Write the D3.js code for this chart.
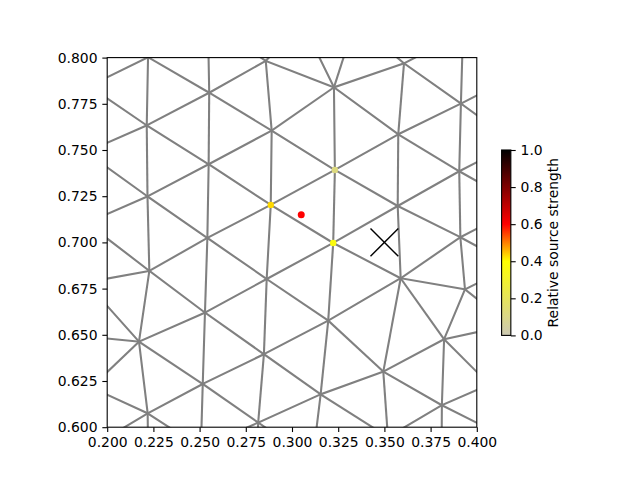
<!DOCTYPE html>
<html>
<head>
<meta charset="utf-8">
<script src="https://cdn.jsdelivr.net/npm/d3@7"></script>
<style>
  html, body { margin: 0; padding: 0; background: #fff; }
  svg { display: block; font-family: "DejaVu Sans", sans-serif; }
</style>
</head>
<body>
<svg id="chart" width="640" height="480"></svg>
<script>
// ---------------- data ----------------
// mesh nodes (data coordinates); nodes outside the view are needed for clipped edges
const nodeIds = ["a1","a2","a3","a4","a5","a6",
  "b1","b2","b3","b4","b5",
  "c0","c1","c2","c3","c4","c5",
  "d1","d2","d3","d4","d5",
  "e0","e1","e2","e3","e4",
  "f1","f2","f3","f4","f5","f6",
  "L1","L2","L3","L4","L5","L6","L7",
  "a7","b6","c6","d6","e5","f7",
  "G1","G2","G3","G4","G5","G6","G7",
  "f0","Q","P","b0"];
const nodeX = [0.2221,0.2214,0.2218,0.2228,0.2172,0.2219,
  0.2552,0.2549,0.2542,0.2529,0.2517,
  0.2858,0.2890,0.2885,0.2863,0.2848,0.2817,
  0.3227,0.3232,0.3223,0.3196,0.3155,
  0.3606,0.3575,0.3572,0.3588,0.3494,
  0.3914,0.3905,0.3911,0.3936,0.3823,0.3811,
  0.1902,0.1885,0.1891,0.1887,0.1853,0.1914,0.1934,
  0.2223,0.2507,0.2805,0.3112,0.3519,0.3809,
  0.4233,0.4206,0.4239,0.4195,0.4179,0.4068,0.4125,
  0.3925,0.3341,0.3054,0.2545];
const nodeY = [0.8002,0.7633,0.7249,0.6846,0.6463,0.6075,
  0.7810,0.7423,0.7024,0.6620,0.6234,
  0.7982,0.7605,0.7203,0.6802,0.6395,0.6025,
  0.7839,0.7392,0.6997,0.6577,0.6178,
  0.7969,0.7585,0.7197,0.6806,0.6301,
  0.7751,0.7385,0.7028,0.6746,0.6476,0.6119,
  0.7846,0.7489,0.7105,0.6783,0.6494,0.6216,0.5904,
  0.5688,0.5888,0.5661,0.5823,0.5947,0.5769,
  0.7913,0.7540,0.7197,0.6875,0.6553,0.6231,0.5961,
  0.8133,0.8193,0.8193,0.8193];
const meshEdges = [
  "a1-a2","a2-a3","a3-a4","a4-a5","a5-a6","a6-a7",
  "b0-b1","b1-b2","b2-b3","b3-b4","b4-b5","b5-b6",
  "c0-c1","c1-c2","c2-c3","c3-c4","c4-c5","c5-c6",
  "d1-d2","d2-d3","d3-d4","d4-d5","d5-d6",
  "e0-e1","e1-e2","e2-e3","e3-e4","e4-e5",
  "f0-f1","f1-f2","f2-f3","f3-f4","f4-f5","f5-f6","f6-f7",
  "L1-a1","L1-a2","L2-a2","L2-a3","L3-a3","L3-a4","L4-a4","L4-a5","L5-a5","L6-a5","L6-a6","L7-a6",
  "a1-b1","a2-b1","a2-b2","a3-b2","a3-b3","a4-b3","a4-b4","a5-b4","a5-b5","a6-b5","a6-b6",
  "b0-c0","b1-c0","b1-c1","b2-c1","b2-c2","b3-c2","b3-c3","b4-c3","b4-c4","b5-c4","b5-c5","b6-c5",
  "c0-P","c0-d1","c1-d1","c1-d2","c2-d2","c2-d3","c3-d3","c3-d4","c4-d4","c4-d5","c5-d5","c5-d6",
  "d1-P","d1-Q","d1-e0","d1-e1","d2-e1","d2-e2","d3-e2","d3-e3","d4-e3","d4-e4","d5-e4","d5-e5",
  "Q-e0","e0-f0","e0-f1","e1-f1","e1-f2","e2-f2","e2-f3","e3-f3","e3-f4","e3-f5","e4-f5","e4-f6","e5-f6",
  "f1-G1","f1-G2","f2-G2","f2-G3","f3-G3","f3-G4","f4-G4","f4-G5","f5-G5","f5-G6","f6-G6","f6-G7"
];
// source strength at nodes
const strengthNodes = ["d2","d3","c2"];
const strengthValues = [0.12, 0.37, 0.43];
// true source and estimated location
const trueSourceX = [0.305], trueSourceY = [0.715];
const estimateX = [0.350], estimateY = [0.700];
// axes
const xDomain = [0.2, 0.4], yDomain = [0.6, 0.8];
const xTicks = [0.2,0.225,0.25,0.275,0.3,0.325,0.35,0.375,0.4];
const yTicks = [0.6,0.625,0.65,0.675,0.7,0.725,0.75,0.775,0.8];
const cbTicks = [0,0.2,0.4,0.6,0.8,1.0];
const cmapStops = [0, 0.4, 0.6, 1.0];
const cmapColors = ["#cdc9b5", "#ffff00", "#ff0000", "#000000"];
const cbLabel = "Relative source strength";

// ---------------- drawing ----------------
const svg = d3.select("#chart");
const L = 107.2, R = 476.8, T = 57.6, B = 427.2;
const x = d3.scaleLinear().domain(xDomain).range([L, R]);
const y = d3.scaleLinear().domain(yDomain).range([B, T]);
const cmap = d3.scaleLinear().domain(cmapStops).range(cmapColors).clamp(true);
const FS = 13.9, TICK = 4.86, PAD = 4.86;

svg.append("defs").append("clipPath").attr("id","clip")
  .append("rect").attr("x", L).attr("y", T).attr("width", R-L).attr("height", B-T);

const idx = {};
nodeIds.forEach((id, i) => idx[id] = i);

const plot = svg.append("g").attr("clip-path", "url(#clip)");
plot.selectAll("line.edge").data(meshEdges).join("line")
  .attr("class","edge")
  .attr("x1", e => x(nodeX[idx[e.split("-")[0]]]))
  .attr("y1", e => y(nodeY[idx[e.split("-")[0]]]))
  .attr("x2", e => x(nodeX[idx[e.split("-")[1]]]))
  .attr("y2", e => y(nodeY[idx[e.split("-")[1]]]))
  .attr("stroke", "#808080").attr("stroke-width", 2.08).attr("stroke-linecap","square");

plot.selectAll("circle.str").data(strengthNodes).join("circle")
  .attr("class","str")
  .attr("cx", n => x(nodeX[idx[n]]))
  .attr("cy", n => y(nodeY[idx[n]]))
  .attr("r", 3.2)
  .attr("fill", (n, i) => cmap(strengthValues[i]));

plot.selectAll("circle.true").data(trueSourceX).join("circle")
  .attr("class","true")
  .attr("cx", (d, i) => x(trueSourceX[i]))
  .attr("cy", (d, i) => y(trueSourceY[i]))
  .attr("r", 3.5).attr("fill", "#ff0000");

const half = 13.9;
const est = plot.selectAll("g.est").data(estimateX).join("g")
  .attr("class","est")
  .attr("transform", (d, i) => `translate(${x(estimateX[i])},${y(estimateY[i])})`);
est.append("line").attr("x1",-half).attr("y1",-half).attr("x2",half).attr("y2",half)
  .attr("stroke","#000").attr("stroke-width",1.4);
est.append("line").attr("x1",-half).attr("y1",half).attr("x2",half).attr("y2",-half)
  .attr("stroke","#000").attr("stroke-width",1.4);

// axes
function styleAxis(g) {
  g.select(".domain").remove();
  g.selectAll(".tick line").attr("stroke","#000").attr("stroke-width",1.1);
  g.selectAll(".tick text").attr("fill","#000").attr("font-size", FS)
    .attr("font-family","DejaVu Sans, sans-serif");
}
svg.append("g").attr("transform", `translate(0,${B})`)
  .call(d3.axisBottom(x).tickValues(xTicks).tickFormat(d3.format(".3f")).tickSize(TICK).tickPadding(PAD))
  .call(styleAxis);
svg.append("g").attr("transform", `translate(${L},0)`)
  .call(d3.axisLeft(y).tickValues(yTicks).tickFormat(d3.format(".3f")).tickSize(TICK).tickPadding(PAD))
  .call(styleAxis);
svg.append("rect").attr("x", L).attr("y", T).attr("width", R-L).attr("height", B-T)
  .attr("fill","none").attr("stroke","#000").attr("stroke-width",1.1);

// colorbar
const cbL = 501.6, cbW = 9.24, cbT = 150.0, cbB = 335.4;
const cy = d3.scaleLinear().domain([0,1]).range([cbB, cbT]);
const grad = svg.select("defs").append("linearGradient").attr("id","cbgrad")
  .attr("x1","0").attr("y1","1").attr("x2","0").attr("y2","0");
d3.range(0, 1.0001, 0.05).forEach(v => {
  grad.append("stop").attr("offset", v).attr("stop-color", cmap(v));
});
svg.append("rect").attr("x", cbL).attr("y", cbT).attr("width", cbW).attr("height", cbB-cbT)
  .attr("fill","url(#cbgrad)");
svg.append("g").attr("transform", `translate(${cbL+cbW},0)`)
  .call(d3.axisRight(cy).tickValues(cbTicks).tickFormat(d3.format(".1f")).tickSize(TICK).tickPadding(PAD))
  .call(styleAxis);
svg.append("rect").attr("x", cbL).attr("y", cbT).attr("width", cbW).attr("height", cbB-cbT)
  .attr("fill","none").attr("stroke","#000").attr("stroke-width",1.1);
svg.append("text")
  .attr("transform", `translate(558,${(cbT+cbB)/2}) rotate(-90)`)
  .attr("text-anchor","middle").attr("font-size", FS).attr("fill","#000")
  .text(cbLabel);
</script>
</body>
</html>
